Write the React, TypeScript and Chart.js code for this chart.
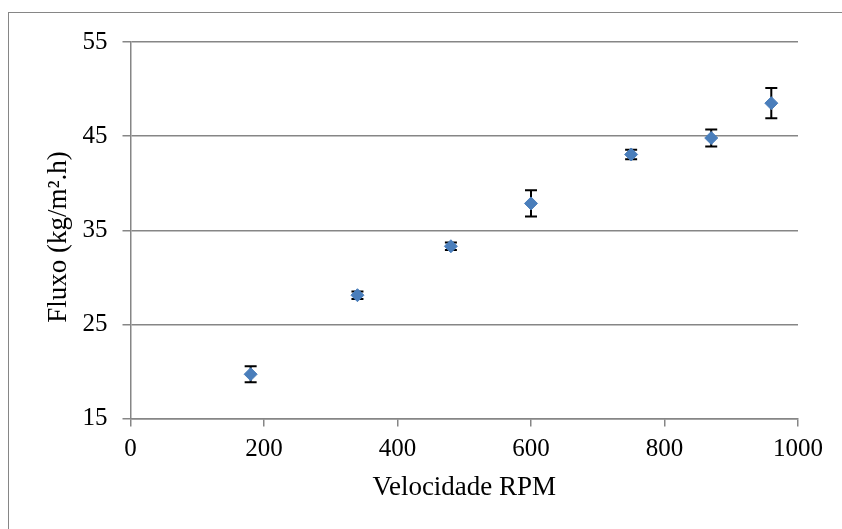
import React, { useEffect, useRef } from "react";
import { Chart, registerables } from "chart.js";

Chart.register(...registerables);

const rpm = [180, 340, 480, 600, 750, 870, 960];
const fluxo = [19.7, 28.1, 33.3, 37.85, 43.05, 44.8, 48.5];
const erro = [0.85, 0.4, 0.4, 1.4, 0.5, 0.9, 1.6];
const xTitle = "Velocidade RPM";
const yTitle = "Fluxo (kg/m².h)  ";

const FONT = "'Liberation Serif', 'Times New Roman', serif";
const GRAY = "#868686";

const errorBars = {
  id: "errorBars",
  beforeDatasetsDraw(chart: any) {
    const { ctx, scales } = chart;
    const x = scales.x;
    const y = scales.y;
    ctx.save();
    ctx.strokeStyle = "#000";
    ctx.lineWidth = 2;
    rpm.forEach((r, i) => {
      const px = x.getPixelForValue(r);
      const top = y.getPixelForValue(fluxo[i] + erro[i]);
      const bot = y.getPixelForValue(fluxo[i] - erro[i]);
      ctx.beginPath();
      ctx.moveTo(px, top);
      ctx.lineTo(px, bot);
      ctx.moveTo(px - 6, top);
      ctx.lineTo(px + 6, top);
      ctx.moveTo(px - 6, bot);
      ctx.lineTo(px + 6, bot);
      ctx.stroke();
    });
    ctx.restore();
  },
};

export default function App() {
  const ref = useRef<HTMLCanvasElement | null>(null);

  useEffect(() => {
    if (!ref.current) return;
    const chart = new Chart(ref.current, {
      type: "scatter",
      data: {
        datasets: [
          {
            data: rpm.map((r, i) => ({ x: r, y: fluxo[i] })),
            pointStyle: "rectRot",
            pointRadius: 6.5,
            pointHoverRadius: 6.5,
            backgroundColor: "#4A7EBB",
            borderColor: "#4A7EBB",
            borderWidth: 1,
            showLine: false,
          },
        ],
      },
      options: {
        animation: false,
        responsive: false,
        maintainAspectRatio: false,
        layout: { padding: { left: 0, right: 44, top: 42, bottom: 0 } },
        plugins: {
          legend: { display: false },
          tooltip: { enabled: false },
        },
        scales: {
          x: {
            type: "linear",
            min: 0,
            max: 1000,
            afterFit: (s: any) => {
              s.height = 110.5;
            },
            ticks: {
              stepSize: 200,
              color: "#000",
              padding: 8,
              font: { family: FONT, size: 25 },
              callback: (v: any) => String(v),
            },
            grid: {
              drawOnChartArea: false,
              drawTicks: true,
              tickLength: 8,
              color: GRAY,
              lineWidth: 1.5,
            },
            border: { color: GRAY, width: 1.5 },
            title: {
              display: true,
              text: xTitle,
              color: "#000",
              font: { family: FONT, size: 27 },
              padding: { top: 0, bottom: 25 },
            },
          },
          y: {
            type: "linear",
            min: 15,
            max: 55,
            afterFit: (s: any) => {
              s.width = 130.5;
            },
            ticks: {
              stepSize: 10,
              color: "#000",
              padding: 15,
              font: { family: FONT, size: 25 },
              callback: (v: any) => String(v),
            },
            grid: {
              drawTicks: true,
              tickLength: 8,
              color: GRAY,
              lineWidth: 1.5,
            },
            border: { color: GRAY, width: 1.5 },
            title: {
              display: true,
              text: yTitle,
              color: "#000",
              font: { family: FONT, size: 27 },
              padding: { top: 43, bottom: 0 },
            },
          },
        },
      },
      plugins: [errorBars],
    });
    return () => chart.destroy();
  }, []);

  return (
    <div
      style={{
        position: "fixed",
        left: 0,
        top: 0,
        width: 842,
        height: 529,
        overflow: "hidden",
        background: "#fff",
      }}
    >
      <div
        style={{
          position: "absolute",
          left: 8,
          top: 12,
          width: 900,
          height: 600,
          border: `1px solid ${GRAY}`,
        }}
      />
      <canvas
        ref={ref}
        width={842}
        height={529}
        style={{ position: "absolute", left: 0, top: 0, width: 842, height: 529 }}
      />
    </div>
  );
}
